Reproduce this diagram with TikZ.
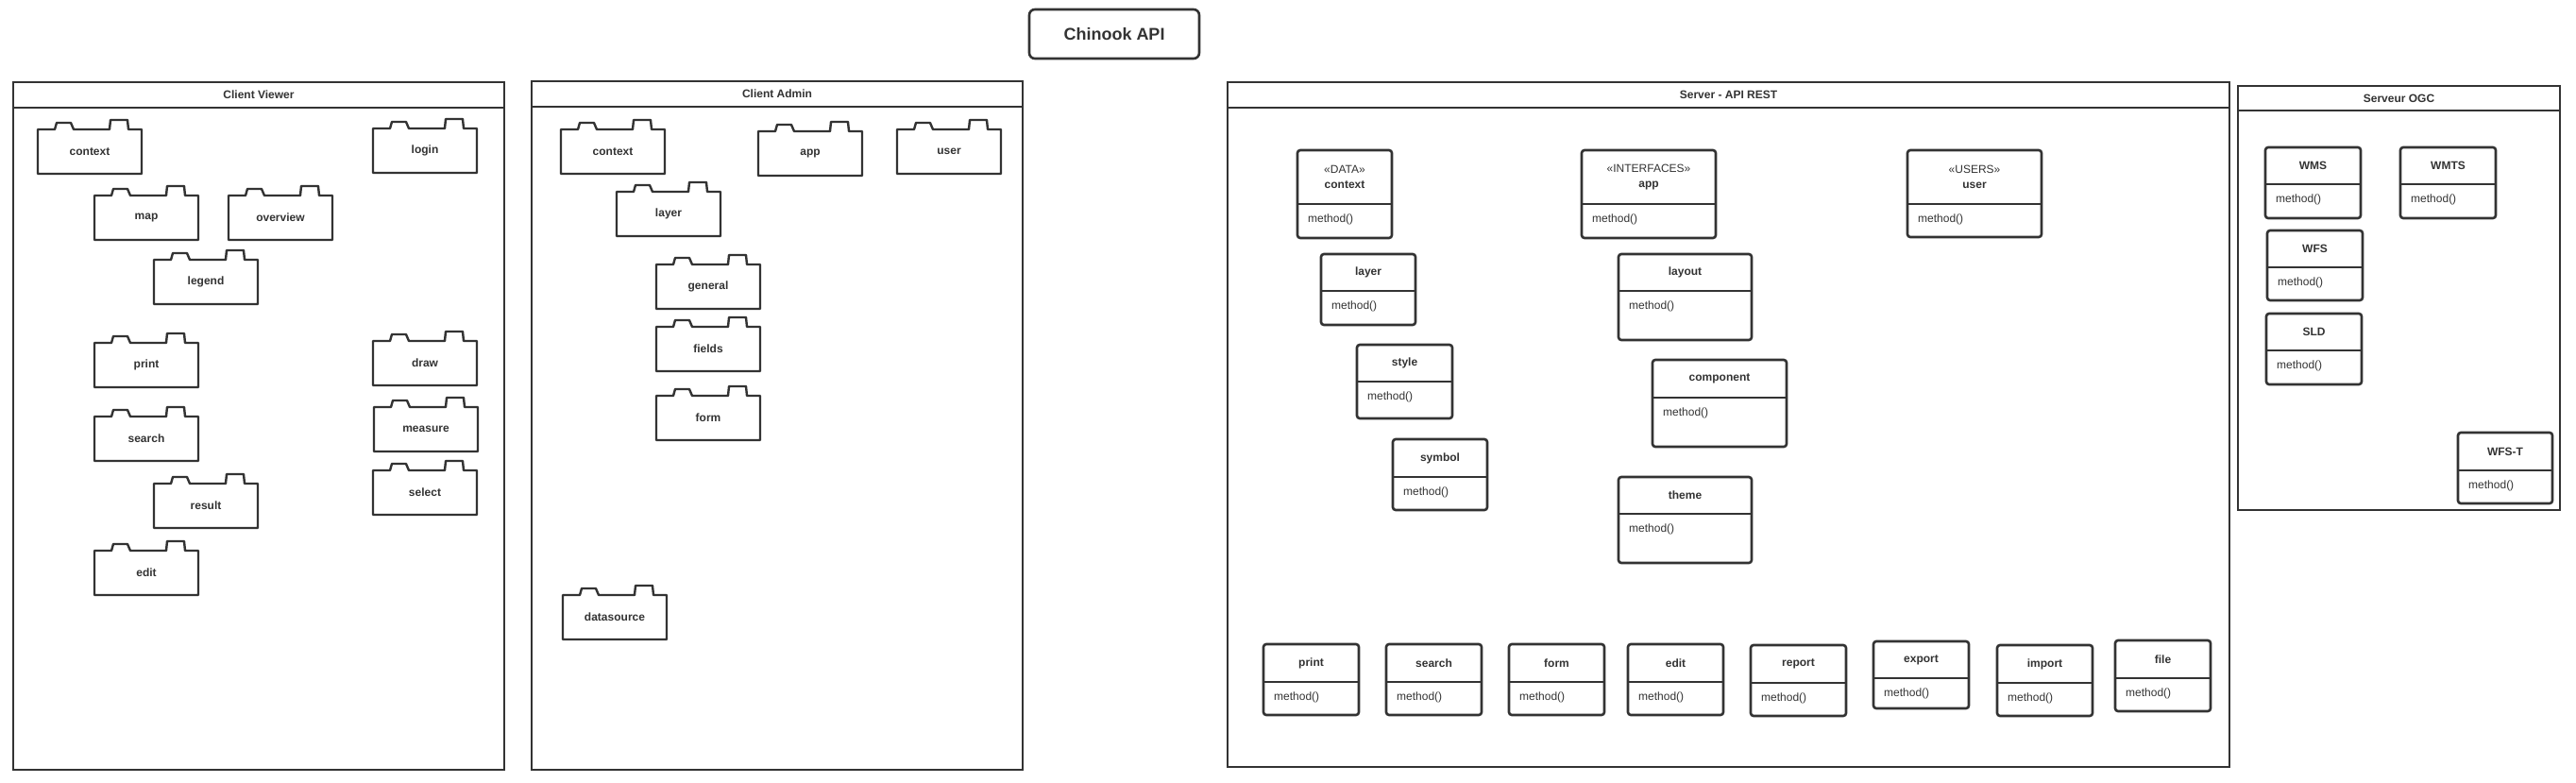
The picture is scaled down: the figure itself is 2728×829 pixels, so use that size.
\documentclass[tikz,border=0pt]{standalone}
\usepackage{fontspec}
\setmainfont{Liberation Sans}
\usepackage{xcolor}
\usepackage{tikz}
\usetikzlibrary{positioning}
\definecolor{inkcol}{HTML}{333333}

% package with two tabs: name, left, top, label
\newcommand{\pkgnode}[4]{%
  \node[pkgbody, anchor=north west] (#1) at (#2,#3) {#4};
  \draw[pkgline] (#1.north west) -- ++(18,0) -- ++(2,-7) -- ++(15,0) -- ++(3,7)
    -- ++(38,0) -- ++(1,-10) -- ++(18,0) -- ++(1,10) -- (#1.north east)
    -- (#1.south east) -- (#1.south west) -- cycle;
}
% class box: name, left, top, width, head height, height, head text
\newcommand{\clsnode}[7]{%
  \node[clsframe, anchor=north west, minimum width=#4, minimum height=#6] (#1) at (#2,#3) {};
  \node[clshead, anchor=north, minimum width=#4, minimum height=#5] (#1-h) at (#1.north) {#7};
  \draw[clsline] (#1-h.south west) -- (#1-h.south east);
  \node[clsbody, anchor=west] (#1-m) at (#2,#3+#5+16) {method()};
}
% swimlane: name, left, top, right, bottom, header bottom, title
\newcommand{\lanenode}[7]{%
  \node[lanebox, anchor=north west, minimum width=#4-#2, minimum height=#5-#3] (#1) at (#2,#3) {};
  \node[lanetitle, anchor=north, minimum width=#4-#2, minimum height=#6-#3] (#1-t) at (#1.north) {#7};
  \draw[laneline] (#1-t.south west) -- (#1-t.south east);
}

\begin{document}
\begin{tikzpicture}[x=1pt,y=-1pt,
  lanebox/.style={draw=inkcol, line width=2.6pt, inner sep=0pt, outer sep=0pt},
  lanetitle/.style={inner sep=0pt, outer sep=0pt, text=inkcol, font=\fontsize{12}{14}\selectfont\bfseries},
  laneline/.style={draw=inkcol, line width=2.6pt},
  pkgbody/.style={minimum width=110pt, minimum height=47pt, inner sep=0pt, outer sep=0pt, text=inkcol, font=\fontsize{12}{14}\selectfont\bfseries},
  pkgline/.style={draw=inkcol, line width=2.4pt, line join=round},
  clsframe/.style={draw=inkcol, line width=2.6pt, rounded corners=3pt, inner sep=0pt, outer sep=0pt},
  clshead/.style={inner sep=0pt, outer sep=0pt, align=center, text=inkcol, font=\fontsize{12}{16}\selectfont\bfseries},
  clsline/.style={draw=inkcol, line width=2.2pt},
  clsbody/.style={inner xsep=11pt, inner ysep=0pt, text=inkcol, font=\fontsize{12}{14}\selectfont},
  titlebox/.style={draw=inkcol, line width=2.6pt, rounded corners=6pt, minimum width=180pt, minimum height=52pt, text=inkcol, font=\fontsize{18}{20}\selectfont\bfseries}]
\path[use as bounding box, fill=white] (0,0) rectangle (2728,829);

\node[titlebox] (chinook) at (1180,36) {Chinook API};

% Client Viewer
\lanenode{cv}{14}{87}{534}{815}{114}{Client Viewer}
\pkgnode{cv-context}{40}{137}{context}
\pkgnode{cv-login}{395}{136}{login}
\pkgnode{cv-map}{100}{207}{map}
\pkgnode{cv-overview}{242}{207}{overview}
\pkgnode{cv-legend}{163}{275}{legend}
\pkgnode{cv-print}{100}{363}{print}
\pkgnode{cv-draw}{395}{361}{draw}
\pkgnode{cv-search}{100}{441}{search}
\pkgnode{cv-measure}{396}{431}{measure}
\pkgnode{cv-result}{163}{512}{result}
\pkgnode{cv-select}{395}{498}{select}
\pkgnode{cv-edit}{100}{583}{edit}

% Client Admin
\lanenode{ca}{563}{86}{1083}{815}{113}{Client Admin}
\pkgnode{ca-context}{594}{137}{context}
\pkgnode{ca-app}{803}{139}{app}
\pkgnode{ca-user}{950}{137}{user}
\pkgnode{ca-layer}{653}{203}{layer}
\pkgnode{ca-general}{695}{280}{general}
\pkgnode{ca-fields}{695}{346}{fields}
\pkgnode{ca-form}{695}{419}{form}
\pkgnode{ca-datasource}{596}{630}{datasource}

% Server - API REST
\lanenode{api}{1300}{87}{2361}{812}{114}{Server - API REST}
\clsnode{api-context}{1374}{159}{100}{57}{93}{\mdseries«DATA»\\context}
\clsnode{api-app}{1675}{159}{142}{57}{93}{\mdseries«INTERFACES»\\app}
\clsnode{api-user}{2020}{159}{142}{57}{92}{\mdseries«USERS»\\user}
\clsnode{api-layer}{1399}{269}{100}{39}{75}{layer}
\clsnode{api-style}{1437}{365}{101}{39}{78}{style}
\clsnode{api-symbol}{1475}{465}{100}{40}{75}{symbol}
\clsnode{api-layout}{1714}{269}{141}{39}{91}{layout}
\clsnode{api-component}{1750}{381}{142}{40}{92}{component}
\clsnode{api-theme}{1714}{505}{141}{39}{91}{theme}
\clsnode{api-print}{1338}{682}{101}{40}{75}{print}
\clsnode{api-search}{1468}{682}{101}{40}{75}{search}
\clsnode{api-form}{1598}{682}{101}{40}{75}{form}
\clsnode{api-edit}{1724}{682}{101}{40}{75}{edit}
\clsnode{api-report}{1854}{683}{101}{40}{75}{report}
\clsnode{api-export}{1984}{679}{101}{39}{71}{export}
\clsnode{api-import}{2115}{683}{101}{40}{75}{import}
\clsnode{api-file}{2240}{678}{101}{40}{75}{file}

% Serveur OGC
\lanenode{ogc}{2370}{91}{2711}{540}{117}{Serveur OGC}
\clsnode{ogc-wms}{2399}{156}{101}{39}{75}{WMS}
\clsnode{ogc-wmts}{2542}{156}{101}{39}{75}{WMTS}
\clsnode{ogc-wfs}{2401}{244}{101}{39}{74}{WFS}
\clsnode{ogc-sld}{2400}{332}{101}{39}{75}{SLD}
\clsnode{ogc-wfst}{2603}{458}{100}{40}{75}{WFS-T}
\end{tikzpicture}
\end{document}
